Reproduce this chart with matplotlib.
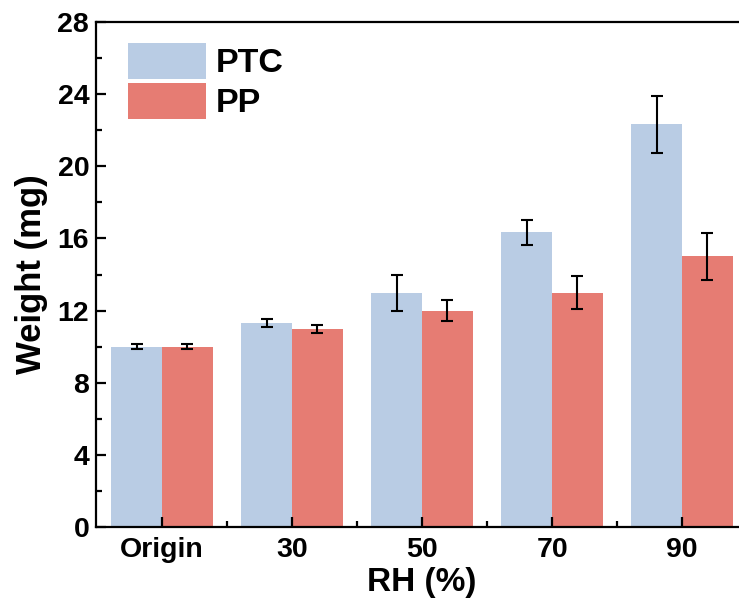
import matplotlib.pyplot as plt
import numpy as np
from matplotlib.ticker import MultipleLocator

# data
categories = ['Origin', '30', '50', '70', '90']
ptc = [10.0, 11.3, 13.0, 16.33, 22.32]
ptc_err = [0.12, 0.22, 1.0, 0.67, 1.6]
pp = [10.0, 11.0, 12.0, 13.0, 15.0]
pp_err = [0.12, 0.22, 0.6, 0.9, 1.3]

plt.rcParams['font.family'] = ['Liberation Sans', 'DejaVu Sans']
plt.rcParams['font.weight'] = 'bold'

fig = plt.figure(figsize=(7.39, 6.10), dpi=100)
ax = fig.add_axes([0.130, 0.136, 0.881, 0.828])

x = np.arange(len(categories))
w = 0.39
ax.bar(x - w / 2, ptc, w, yerr=ptc_err, color='#B9CCE4', label='PTC',
       error_kw=dict(ecolor='black', elinewidth=1.5, capsize=4, capthick=1.5))
ax.bar(x + w / 2, pp, w, yerr=pp_err, color='#E67C73', label='PP',
       error_kw=dict(ecolor='black', elinewidth=1.5, capsize=4, capthick=1.5))

ax.set_xlim(-0.508, 4.5)
ax.set_ylim(0, 28)
ax.set_xticks(x)
ax.set_xticklabels(categories)
ax.xaxis.set_minor_locator(plt.FixedLocator(x[:-1] + 0.5))
ax.yaxis.set_major_locator(MultipleLocator(4))
ax.yaxis.set_minor_locator(MultipleLocator(2))

for s in ax.spines.values():
    s.set_linewidth(1.6)
ax.tick_params(which='both', direction='in', width=1.6, labelsize=20.5)
ax.tick_params(which='major', length=7)
ax.tick_params(which='minor', length=4)
ax.tick_params(axis='x', pad=7)
ax.tick_params(axis='y', pad=5)
for lab in ax.get_xticklabels() + ax.get_yticklabels():
    lab.set_fontweight('bold')

ax.set_xlabel('RH (%)', fontsize=24, fontweight='bold', labelpad=3)
ax.set_ylabel('Weight (mg)', fontsize=25, fontweight='bold', labelpad=7)

leg = ax.legend(loc='upper left', bbox_to_anchor=(0.023, 0.992), frameon=False,
                fontsize=24.5, handlelength=2.29, handleheight=1.25,
                labelspacing=0.1, handletextpad=0.3, borderpad=0)
for t in leg.get_texts():
    t.set_fontweight('bold')

fig.savefig('out.png', dpi=100)
